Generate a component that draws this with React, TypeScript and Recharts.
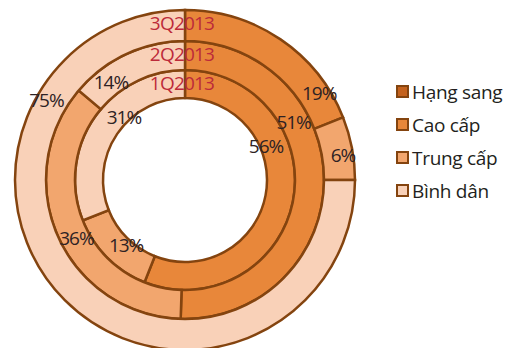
import React from 'react';
import { PieChart, Pie, Cell, Legend } from 'recharts';

const categories = ['Hạng sang', 'Cao cấp', 'Trung cấp', 'Bình dân'];
const quarters = ['1Q2013', '2Q2013', '3Q2013'];
const q1Values = [0, 56, 13, 31];
const q2Values = [0, 51, 36, 14];
const q3Values = [0, 19, 6, 75];

const colors = ['#c4621e', '#e8873a', '#f2a66e', '#f9d1b8'];
const stroke = '#84440f';
const font = '"Open Sans", sans-serif';

const CX = 185;
const CY = 180;

// ring radii and where the % labels sit (angle clockwise from top)
const rings = [
  { values: q1Values, inner: 82, outer: 110, labelR: 88, angles: [0, 67, 222, 316] },
  { values: q2Values, inner: 110, outer: 139, labelR: 123, angles: [0, 62, 242, 323] },
  { values: q3Values, inner: 139, outer: 170, labelR: 160, angles: [0, 57, 81, 300] },
];

const toData = (values: number[]) => categories.map((name, i) => ({ name, value: values[i] }));

const makeLabel = (ring: number) => (props: any) => {
  const { cx, cy, index, value } = props;
  if (!value) return null;
  const a = (rings[ring].angles[index] * Math.PI) / 180;
  const r = rings[ring].labelR;
  return (
    <text
      x={cx + r * Math.sin(a)}
      y={cy - r * Math.cos(a)}
      textAnchor="middle"
      dominantBaseline="central"
      fill="#2e2224"
      fontSize={19}
      fontFamily={font}
      letterSpacing={-1}
    >
      {value}%
    </text>
  );
};

const LegendBox = () => (
  <div style={{ fontFamily: font, fontSize: 19, color: '#231f20' }}>
    {categories.map((c, i) => (
      <div key={c} style={{ display: 'flex', alignItems: 'center', height: 33 }}>
        <span
          style={{
            display: 'inline-block',
            width: 9,
            height: 9,
            background: colors[i],
            border: `2px solid ${stroke}`,
            marginRight: 3,
          }}
        />
        <span style={{ letterSpacing: -0.3 }}>{c}</span>
      </div>
    ))}
  </div>
);

export default function App() {
  return (
    <div style={{ position: 'absolute', left: 0, top: 0, width: 524, height: 348, background: '#fff' }}>
      <PieChart width={524} height={348} margin={{ top: 0, right: 0, bottom: 0, left: 0 }}>
        {rings.map((ring, ri) => (
          <Pie
            key={quarters[ri]}
            data={toData(ring.values)}
            dataKey="value"
            nameKey="name"
            cx={CX}
            cy={CY}
            innerRadius={ring.inner}
            outerRadius={ring.outer}
            startAngle={90}
            endAngle={-270}
            stroke={stroke}
            strokeWidth={2.5}
            label={makeLabel(ri)}
            labelLine={false}
            isAnimationActive={false}
          >
            {categories.map((c, i) => (
              <Cell key={c} fill={colors[i]} />
            ))}
          </Pie>
        ))}
        <Legend
          layout="vertical"
          content={() => <LegendBox />}
          wrapperStyle={{ position: 'absolute', left: 396, top: 75, width: 128 }}
        />
      </PieChart>
      <svg
        width={524}
        height={348}
        style={{ position: 'absolute', left: 0, top: 0, pointerEvents: 'none' }}
      >
        {rings.map((ring, ri) => (
          <text
            key={quarters[ri]}
            x={CX - 3}
            y={CY - ring.outer + 13}
            textAnchor="middle"
            dominantBaseline="central"
            fill="#bc2a3a"
            fontSize={19}
            fontFamily={font}
            letterSpacing={-0.8}
          >
            {quarters[ri]}
          </text>
        ))}
      </svg>
    </div>
  );
}
